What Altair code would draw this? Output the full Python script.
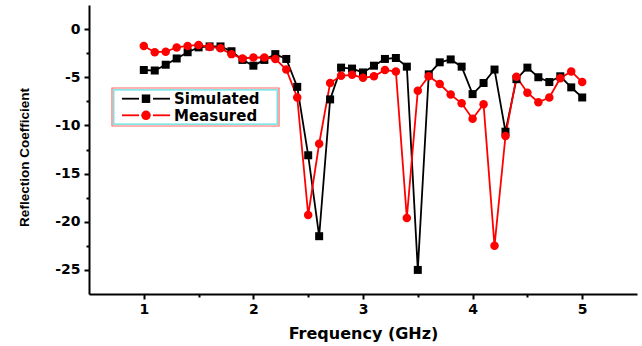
import altair as alt
import pandas as pd

freq = [1.0, 1.1, 1.2, 1.3, 1.4, 1.5, 1.6, 1.7, 1.8, 1.9,
        2.0, 2.1, 2.2, 2.3, 2.4, 2.5, 2.6, 2.7, 2.8, 2.9,
        3.0, 3.1, 3.2, 3.3, 3.4, 3.5, 3.6, 3.7, 3.8, 3.9,
        4.0, 4.1, 4.2, 4.3, 4.4, 4.5, 4.6, 4.7, 4.8, 4.9, 5.0]

simulated = [-4.25, -4.3, -3.7, -3.05, -2.4, -1.9, -1.8, -1.8, -2.3, -3.2,
             -3.8, -3.2, -2.6, -3.1, -6.0, -13.1, -21.5, -7.3, -4.0, -4.1,
             -4.5, -3.8, -3.1, -3.0, -3.9, -25.0, -4.7, -3.45, -3.15, -3.9,
             -6.75, -5.6, -4.2, -10.65, -5.2, -4.0, -5.0, -5.5, -4.9, -6.05, -7.1]

measured = [-1.75, -2.4, -2.35, -1.9, -1.75, -1.65, -1.85, -2.0, -2.6, -3.05,
            -2.95, -2.95, -3.1, -4.2, -7.1, -19.3, -11.9, -5.6, -4.85, -4.75,
            -5.05, -4.9, -4.25, -4.4, -19.6, -6.4, -4.9, -5.7, -6.8, -7.7,
            -9.3, -7.8, -22.5, -11.1, -4.95, -6.6, -7.6, -7.1, -5.1, -4.4, -5.5]

series_names = ["Simulated", "Measured"]
series_colors = ["#000000", "#ff0000"]
series_shapes = ["square", "circle"]

x_ticks = [1, 1.5, 2, 2.5, 3, 3.5, 4, 4.5, 5]
y_ticks = [-25, -22.5, -20, -17.5, -15, -12.5, -10, -7.5, -5, -2.5, 0]

rows = []
for f, s, m in zip(freq, simulated, measured):
    rows.append({"freq": f, "value": s, "series": "Simulated"})
    rows.append({"freq": f, "value": m, "series": "Measured"})
df = pd.DataFrame(rows)

FONT = "DejaVu Sans"

x_enc = alt.X(
    "freq:Q",
    scale=alt.Scale(domain=[0.5, 5.5], nice=False, zero=False),
    axis=alt.Axis(
        title="Frequency (GHz)",
        values=x_ticks,
        labelExpr="datum.value % 1 === 0 ? '' + datum.value : ''",
        tickSize={"condition": {"test": "datum.value % 1 === 0", "value": 5}, "value": 3},
        tickWidth=2,
        tickColor="black",
        domainColor="black",
        domainWidth=2,
        grid=False,
        labelFont=FONT,
        labelFontWeight="bold",
        labelFontSize=14,
        labelColor="black",
        labelPadding=3,
        labelOverlap=False,
        labelFlush=False,
        titleFont=FONT,
        titleFontWeight="bold",
        titleFontSize=16,
        titleColor="black",
        titleBaseline="top",
        titleY=31,
    ),
)

y_enc = alt.Y(
    "value:Q",
    scale=alt.Scale(domain=[-27.5, 2.5], nice=False, zero=False),
    axis=alt.Axis(
        title="Reflection Coefficient",
        values=y_ticks,
        labelExpr="datum.value % 5 === 0 ? '' + datum.value : ''",
        tickSize={"condition": {"test": "datum.value % 5 === 0", "value": 5}, "value": 3},
        tickWidth=2,
        tickColor="black",
        domainColor="black",
        domainWidth=2,
        grid=False,
        labelFont=FONT,
        labelFontWeight="bold",
        labelFontSize=14,
        labelColor="black",
        labelPadding=4,
        labelOverlap=False,
        labelFlush=False,
        titleFont="Liberation Sans",
        titleFontWeight="bold",
        titleFontSize=13.5,
        titleColor="black",
        titleAngle=270,
        titleAlign="center",
        titleBaseline="middle",
        titleX=-65,
        titleY=152,
    ),
)

color_scale = alt.Scale(domain=series_names, range=series_colors)

lines = alt.Chart(df).mark_line(strokeWidth=1.8).encode(
    x=x_enc,
    y=y_enc,
    color=alt.Color("series:N", scale=color_scale, legend=None),
    detail="series:N",
)

pts_sim = alt.Chart(df).transform_filter(
    alt.datum.series == "Simulated"
).mark_point(shape=series_shapes[0], filled=True, size=64, opacity=1, color=series_colors[0]).encode(
    x=x_enc, y=y_enc
)

pts_mea = alt.Chart(df).transform_filter(
    alt.datum.series == "Measured"
).mark_point(shape=series_shapes[1], filled=True, size=72, opacity=1, color=series_colors[1]).encode(
    x=x_enc, y=y_enc
)

# ---- legend key (drawn inside the plot, as in the original) ----
key_df = pd.DataFrame({"series": ["key"]})
box_outer = alt.Chart(key_df).mark_rect(fill="white", stroke="#ff6666", strokeWidth=1.2).encode(
    x=alt.value(23), x2=alt.value(190), y=alt.value(83), y2=alt.value(121)
)
box_inner = alt.Chart(key_df).mark_rect(fill="white", stroke="#55dede", strokeWidth=1.2).encode(
    x=alt.value(24.8), x2=alt.value(188.2), y=alt.value(84.8), y2=alt.value(119.2)
)

key_layers = [box_outer, box_inner]
row_y = [93.7, 110.3]
for name, col, shp, ry in zip(series_names, series_colors, series_shapes, row_y):
    one = pd.DataFrame({"series": [name]})
    for xa, xb in [(33, 50), (64, 81)]:
        key_layers.append(
            alt.Chart(one).mark_rule(color=col, strokeWidth=1.8).encode(
                x=alt.value(xa), x2=alt.value(xb), y=alt.value(ry)
            )
        )
    key_layers.append(
        alt.Chart(one).mark_point(shape=shp, filled=True, opacity=1, color=col,
                                  size=72 if shp == "square" else 90).encode(
            x=alt.value(57), y=alt.value(ry)
        )
    )
    key_layers.append(
        alt.Chart(one).mark_text(align="left", baseline="middle", font=FONT,
                                 fontWeight="bold", fontSize=15, color="black").encode(
            x=alt.value(85), y=alt.value(ry + 0.5), text="series:N"
        )
    )

chart = alt.layer(lines, pts_sim, pts_mea, *key_layers).properties(
    width=548,
    height=289,
    autosize=alt.AutoSizeParams(type="none"),
    padding={"left": 89, "top": 5, "right": 5, "bottom": 52},
).configure_view(stroke=None)

chart.save("out.html", embed_options={"renderer": "svg", "actions": False})
